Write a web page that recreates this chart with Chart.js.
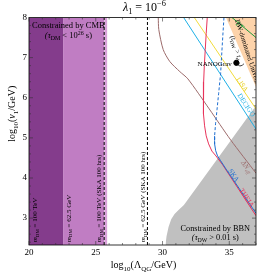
<!DOCTYPE html>
<html><head><meta charset="utf-8">
<script src="https://cdn.jsdelivr.net/npm/chart.js@4.4.1/dist/chart.umd.min.js"></script>
<style>html,body{margin:0;padding:0;background:#fff}</style>
</head><body>
<canvas id="c" width="266" height="275"></canvas>
<script>
// ---- axes ----
const X_RANGE = [20, 37];
const Y_RANGE = [2.33, 8];
const xTicks = [20, 25, 30, 35];
const yTicks = [3, 4, 5, 6, 7, 8];

// ---- regions ----
const cmbDarkX = [20, 22.55];
const cmbLightX = [22.55, 25.63];
const cmbStripX = [25.63, 25.87];
const dashedX = [25.63, 28.87];
const bbnX = [30.22, 30.3, 30.45, 30.65, 30.9, 31.2, 31.6, 37];
const bbnY = [2.33, 2.55, 2.78, 2.97, 3.1, 3.2, 3.33, 5.8];
const dwX = [34.75, 37];
const dwY = [8, 6.27];

// ---- sensitivity curves ----
const etX = [35.2, 37];        const etY = [8, 7.5];
const decigoX = [31.58, 37];   const decigoY = [8, 5.22];
const lisaX = [32.38, 37];     const lisaY = [8, 5.72];
const theiaX = [33.35, 33.27, 33.2, 33.13, 33.08, 33.05, 33.08, 33.15, 33.27, 33.45, 33.7, 34.0, 34.5, 37];
const theiaY = [8, 7.6, 7.2, 6.8, 6.4, 6.0, 5.6, 5.3, 5.05, 4.85, 4.67, 4.55, 4.33, 3.06];
const skaX = [34.6, 34.47, 34.35, 34.2, 34.08, 33.97, 33.9, 33.9, 33.98, 34.12, 34.35, 34.8, 37];
const skaY = [8, 7.3, 6.6, 6.1, 5.7, 5.35, 5.05, 4.85, 4.68, 4.55, 4.43, 4.2, 3.12];
const neffX = [29.68, 29.72, 30.05, 30.55, 31.3, 31.9, 33.5, 35.1, 37];
const neffY = [8, 7.7, 7.2, 6.9, 6.65, 6.47, 5.72, 4.95, 4.12];
const nanogravX = [35.53];
const nanogravY = [6.87];

const pts = (xs, ys) => xs.map((x, i) => ({x, y: ys[i]}));
const topPts = xs => xs.map(x => ({x, y: Y_RANGE[1]}));
const vline = x => [{x, y: Y_RANGE[0]}, {x, y: Y_RANGE[1]}];

const SERIF = '"Liberation Serif", "DejaVu Serif", serif';

function rich(ctx, parts, x, y, size, align, rot, color) {
  ctx.save();
  ctx.translate(x, y);
  ctx.rotate(rot || 0);
  ctx.fillStyle = color || '#000';
  ctx.textBaseline = 'alphabetic';
  ctx.textAlign = 'left';
  const fontOf = p => {
    const m = p[1] || 'n';
    const s = (m === 'b' || m === 'p') ? size * 0.7 : size;
    const it = p[2] ? 'italic ' : '';
    return it + s + 'px ' + SERIF;
  };
  let w = 0;
  const ws = parts.map(p => { ctx.font = fontOf(p); const v = ctx.measureText(p[0]).width; w += v; return v; });
  let cx = align === 'center' ? -w / 2 : (align === 'right' ? -w : 0);
  parts.forEach((p, i) => {
    ctx.font = fontOf(p);
    const m = p[1] || 'n';
    const dy = m === 'b' ? size * 0.25 : (m === 'p' ? -size * 0.4 : 0);
    ctx.fillText(p[0], cx, dy + size * 0.33);
    cx += ws[i];
  });
  ctx.restore();
}

// labels in data coordinates
const inLabels = [
  {parts: [['Constrained by CMB']], x: 22.95, y: 7.8, size: 8.5, align: 'center'},
  {parts: [['(τ', 'n', 1], ['DM', 'b'], [' < 10'], ['26', 'p'], [' s)']], x: 22.95, y: 7.56, size: 8.5, align: 'center'},
  {parts: [['Constrained by BBN']], x: 33.95, y: 2.74, size: 8.3, align: 'center'},
  {parts: [['(τ', 'n', 1], ['DW', 'b'], [' > 0.01 s)']], x: 33.95, y: 2.53, size: 8.3, align: 'center'},
  {parts: [['m', 'n', 1], ['DM', 'b'], [' = 100 TeV']], x: 20.45, y: 2.4, size: 7, align: 'left', rot: -Math.PI / 2},
  {parts: [['m', 'n', 1], ['DM', 'b'], [' = 62.5 GeV']], x: 22.95, y: 2.4, size: 7, align: 'left', rot: -Math.PI / 2},
  {parts: [['m', 'n', 1], ['DM', 'b'], [' = 100 TeV (SKA 100 hrs)']], x: 25.25, y: 2.4, size: 7, align: 'left', rot: -Math.PI / 2},
  {parts: [['m', 'n', 1], ['DM', 'b'], [' = 62.5 GeV (SKA 100 hrs)']], x: 28.55, y: 2.4, size: 7, align: 'left', rot: -Math.PI / 2},
  {parts: [['NANOGrav']], x: 35.19, y: 6.86, size: 7, align: 'right'},
  {parts: [['ET']], x: 35.8, y: 7.8, size: 7, align: 'center', along: [etX, etY], color: '#1f9a3a'},
  {parts: [['LISA']], x: 35.98, y: 6.33, size: 7, align: 'center', along: [lisaX, lisaY], color: '#e8cf20'},
  {parts: [['DECIGO']], x: 36.28, y: 5.82, size: 7, align: 'center', along: [decigoX, decigoY], color: '#1eb0e6'},
  {parts: [['SKA']], x: 35.34, y: 4.07, size: 7, align: 'center', along: [[34.8, 37], [4.2, 3.12]], color: '#1f6fd0'},
  {parts: [['THEIA']], x: 36.32, y: 3.51, size: 7, align: 'center', along: [[34.5, 37], [4.33, 3.06]], color: '#e8335a'},
  {parts: [['ΔN', 'n', 1], ['eff', 'b', 1]], x: 36.3, y: 4.28, size: 7, align: 'center', along: [[35.1, 37], [4.95, 4.12]], color: '#9c6b6b'},
  {parts: [['DW-dominated Universe']], x: 35.6, y: 7.95, size: 7, align: 'left', rot: 72 * Math.PI / 180},
  {parts: [['(t', 'n', 1], ['DW', 'b'], [' > t', 'n', 1], ['dec', 'b'], [')']], x: 35.6, y: 7.17, size: 7, align: 'center', rot: 72 * Math.PI / 180},
];

const deco = {
  id: 'deco',
  afterDatasetsDraw(chart) {
    const {ctx, chartArea: a, scales: {x, y}} = chart;
    ctx.save();
    ctx.beginPath(); ctx.rect(a.left, a.top, a.right - a.left, a.bottom - a.top); ctx.clip();
    inLabels.forEach(L => {
      let rot = L.rot || 0;
      if (L.along) {
        const [xs, ys] = L.along;
        const x0 = x.getPixelForValue(xs[0]), y0 = y.getPixelForValue(ys[0]);
        const x1 = x.getPixelForValue(xs[xs.length - 1]), y1 = y.getPixelForValue(ys[ys.length - 1]);
        rot = Math.atan2(y1 - y0, x1 - x0);
      }
      rich(ctx, L.parts, x.getPixelForValue(L.x), y.getPixelForValue(L.y), L.size, L.align, rot, L.color);
    });
    ctx.restore();
  },
  afterDraw(chart) {
    const {ctx, chartArea: a, scales: {x, y}} = chart;
    ctx.save();
    ctx.strokeStyle = '#000';
    ctx.lineWidth = 0.8;
    ctx.strokeRect(a.left, a.top, a.right - a.left, a.bottom - a.top);
    ctx.strokeStyle = '#333';
    ctx.lineWidth = 0.6;
    ctx.beginPath();
    for (let v = X_RANGE[0]; v <= X_RANGE[1] + 1e-9; v += 1) {
      const p = x.getPixelForValue(v);
      const L = (v % 5 === 0) ? 4 : 2;
      ctx.moveTo(p, a.bottom); ctx.lineTo(p, a.bottom - L);
      ctx.moveTo(p, a.top); ctx.lineTo(p, a.top + L);
    }
    for (let k = Math.ceil(Y_RANGE[0] * 5); k <= Y_RANGE[1] * 5 + 1e-9; k++) {
      const v = k / 5;
      const p = y.getPixelForValue(v);
      const L = (k % 5 === 0) ? 4 : 2;
      ctx.moveTo(a.left, p); ctx.lineTo(a.left + L, p);
      ctx.moveTo(a.right, p); ctx.lineTo(a.right - L, p);
    }
    ctx.stroke();
    // titles
    const cxm = (a.left + a.right) / 2;
    rich(ctx, [['λ', 'n', 1], ['1', 'b'], [' = 10'], ['−6', 'p']], cxm + 2, 7, 12, 'center');
    rich(ctx, [['log'], ['10', 'b'], ['(Λ'], ['QG', 'b'], ['/GeV)']], cxm + 1, 265, 10, 'center');
    rich(ctx, [['log'], ['10', 'b'], ['('], ['v', 'n', 1], ['1', 'b'], ['/GeV)']], 12, y.getPixelForValue(5.6), 10, 'center', -Math.PI / 2);
    ctx.restore();
  }
};

const area = (data, color, fill, order) => ({type: 'line', data, borderWidth: 0, backgroundColor: color, borderColor: color, fill, pointRadius: 0, order});
const curve = (data, color, order, extra) => Object.assign({type: 'line', data, borderColor: color, borderWidth: 1, pointRadius: 0, fill: false, order, tension: 0}, extra || {});

new Chart(document.getElementById('c'), {
  type: 'scatter',
  data: {
    datasets: [
      area(topPts(cmbDarkX), '#843c8c', 'start', 20),
      area(topPts(cmbLightX), '#c07dc3', 'start', 19),
      area(topPts(cmbStripX), '#d9a2d9', 'start', 18),
      area(pts(bbnX, bbnY), '#c0c0c0', 'start', 17),
      area(pts(dwX, dwY), '#fdd3aa', 'end', 16),
      curve(vline(dashedX[0]), '#000', 5, {borderDash: [3, 2]}),
      curve(vline(dashedX[1]), '#000', 5, {borderDash: [3, 2]}),
      curve(pts(neffX, neffY), '#9c6b6b', 4, {tension: 0.25}),
      curve(pts(etX, etY), '#1f9a3a', 4),
      curve(pts(decigoX, decigoY), '#1eb0e6', 4),
      curve(pts(lisaX, lisaY), '#f2dc3a', 4),
      curve(pts(theiaX, theiaY), '#e8335a', 3),
      curve(pts(skaX, skaY), '#1f6fd0', 2, {segment: {borderDash: c => c.p0.parsed.y > 4.9 ? [3, 2] : undefined}}),
      {type: 'scatter', data: pts(nanogravX, nanogravY), pointRadius: 2.6, backgroundColor: '#000', borderColor: '#000', order: 1},
    ]
  },
  options: {
    responsive: false,
    animation: false,
    layout: {padding: {top: 17.5, right: 10, left: 0, bottom: 0}},
    plugins: {legend: {display: false}, tooltip: {enabled: false}},
    scales: {
      x: {
        type: 'linear', min: X_RANGE[0], max: X_RANGE[1],
        afterBuildTicks: s => { s.ticks = xTicks.map(v => ({value: v})); },
        afterFit: s => { s.height = 30; },
        grid: {display: false, drawTicks: false},
        border: {display: false},
        ticks: {padding: 2, color: '#000', font: {family: SERIF, size: 9}, maxRotation: 0}
      },
      y: {
        type: 'linear', min: Y_RANGE[0], max: Y_RANGE[1],
        afterBuildTicks: s => { s.ticks = yTicks.map(v => ({value: v})); },
        afterFit: s => { s.width = 29; },
        grid: {display: false, drawTicks: false},
        border: {display: false},
        ticks: {padding: 2, color: '#000', font: {family: SERIF, size: 9}}
      }
    }
  },
  plugins: [deco]
});
</script>
</body></html>
